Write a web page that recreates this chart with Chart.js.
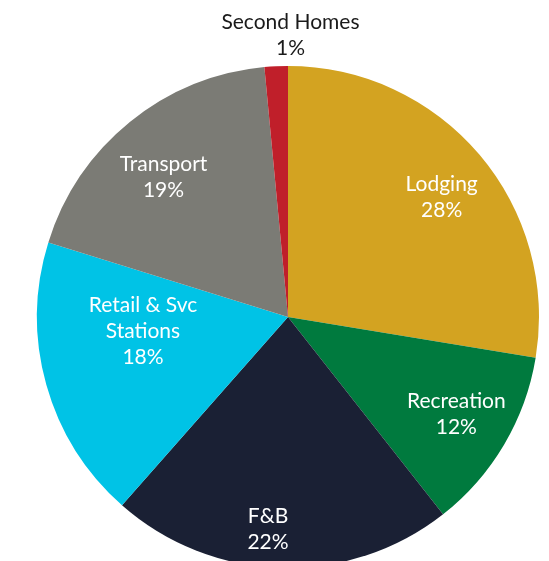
<!DOCTYPE html>
<html>
<head>
<meta charset="utf-8">
<script src="https://cdn.jsdelivr.net/npm/chart.js@4/dist/chart.umd.min.js"></script>
<style>
  html, body { margin: 0; padding: 0; overflow: hidden; background: #fff; }
  #wrap { width: 549px; height: 600px; }
</style>
</head>
<body>
<div id="wrap"><canvas id="pieChart"></canvas></div>
<script>
const categories = ['Lodging', 'Recreation', 'F&B', 'Retail & Svc Stations', 'Transport', 'Second Homes'];
// slice sizes
const shares = [27.6, 11.8, 22.1, 18.3, 18.7, 1.5];
// percent text as printed on the chart
const pctLabels = ['28%', '12%', '22%', '18%', '19%', '1%'];
const labelLines = [
    ['Lodging'],
    ['Recreation'],
    ['F&B'],
    ['Retail & Svc', 'Stations'],
    ['Transport'],
    ['Second Homes']
];

const sliceColors = ['#D3A321', '#007A3E', '#1A2034', '#00C3E6', '#7B7B75', '#C01F2A'];
const labelColors = ['#fff', '#fff', '#fff', '#fff', '#fff', '#1a1a1a'];
// label placement: angle from 12 o'clock (deg, clockwise) and distance as fraction of radius
const labelPlace = [[51.7, 0.78], [119.7, 0.772], [185.4, 0.845], [265, 0.58], [318.6, 0.75], [0.5, 1.128]];

// draws the category + percent text on each slice
const sliceLabels = {
    id: 'sliceLabels',
    afterDatasetsDraw(chart) {
        const arc = chart.getDatasetMeta(0).data[0];
        const cx = arc.x, cy = arc.y, r = arc.outerRadius;
        const ctx = chart.ctx;
        ctx.save();
        ctx.font = '21px Lato';
        ctx.textAlign = 'center';
        ctx.textBaseline = 'middle';
        const lineH = 26;
        shares.forEach((v, i) => {
            const a = labelPlace[i][0] * Math.PI / 180;
            const x = cx + Math.sin(a) * r * labelPlace[i][1];
            const y = cy - Math.cos(a) * r * labelPlace[i][1] + 1.5;
            const lines = labelLines[i].concat([pctLabels[i]]);
            const top = y - (lines.length - 1) * lineH / 2;
            ctx.fillStyle = labelColors[i];
            lines.forEach((t, k) => ctx.fillText(t, x, top + k * lineH));
        });
        ctx.restore();
    }
};

new Chart(document.getElementById('pieChart'), {
    type: 'pie',
    data: {
        labels: categories,
        datasets: [{
            data: shares,
            backgroundColor: sliceColors,
            borderWidth: 0
        }]
    },
    options: {
        responsive: true,
        maintainAspectRatio: false,
        animation: false,
        layout: { padding: { left: 37, right: 10, top: 66, bottom: 32 } },
        plugins: {
            legend: { display: false },
            tooltip: { enabled: false }
        }
    },
    plugins: [sliceLabels]
});
</script>
</body>
</html>
